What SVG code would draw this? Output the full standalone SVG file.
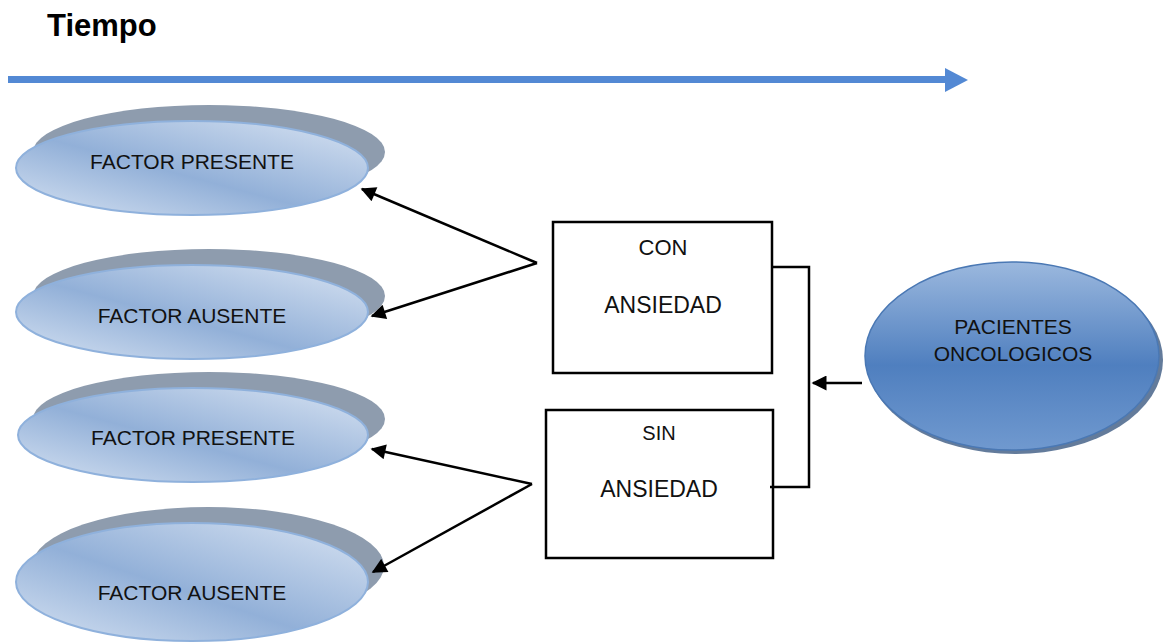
<svg xmlns="http://www.w3.org/2000/svg" width="1166" height="643" viewBox="0 0 1166 643">
  <defs>
    <linearGradient id="factorFill" x1="0" y1="1" x2="1" y2="0">
      <stop offset="0" stop-color="#d6e2f2"/>
      <stop offset="0.45" stop-color="#92b0d8"/>
      <stop offset="1" stop-color="#d8e3f2"/>
    </linearGradient>
    <linearGradient id="pacFill" x1="0" y1="0" x2="0" y2="1">
      <stop offset="0" stop-color="#9bb8de"/>
      <stop offset="0.55" stop-color="#4f7fbf"/>
      <stop offset="1" stop-color="#7099cf"/>
    </linearGradient>
    <marker id="arrow" viewBox="0 0 10 10" refX="9" refY="5" markerWidth="7" markerHeight="6" markerUnits="strokeWidth" orient="auto">
      <path d="M0,0 L10,5 L0,10 z" fill="#000"/>
    </marker>
  </defs>
  <style>
    .label { font-family: "Liberation Sans", Arial, sans-serif; fill: #111; text-anchor: middle; }
    .shadow { fill: #8e9cae; }
    .factor { fill: url(#factorFill); stroke: #8fb1dc; stroke-width: 2; }
    .box { fill: #fff; stroke: #000; stroke-width: 2.5; }
    .conn { fill: none; stroke: #000; stroke-width: 2.5; }
  </style>

  <!-- time axis -->
  <g id="tiempo">
    <text x="47" y="36" font-family="Liberation Sans, Arial, sans-serif" font-weight="bold" font-size="31" fill="#000">Tiempo</text>
    <rect x="8" y="76" width="938" height="7" fill="#5389d4"/>
    <polygon points="945,68 968,80 945,92" fill="#5389d4"/>
  </g>

  <!-- outcome ellipses -->
  <g id="factor-presente-1">
    <ellipse class="shadow" cx="209" cy="152" rx="176" ry="47"/>
    <ellipse class="factor" cx="192" cy="168" rx="176" ry="47"/>
    <text class="label" x="192" y="169" font-size="21">FACTOR PRESENTE</text>
  </g>
  <g id="factor-ausente-1">
    <ellipse class="shadow" cx="209" cy="296" rx="176" ry="47"/>
    <ellipse class="factor" cx="192" cy="312" rx="176" ry="47"/>
    <text class="label" x="192" y="323" font-size="21">FACTOR AUSENTE</text>
  </g>
  <g id="factor-presente-2">
    <ellipse class="shadow" cx="209" cy="419" rx="176" ry="47"/>
    <ellipse class="factor" cx="193" cy="435" rx="175" ry="47"/>
    <text class="label" x="193" y="445" font-size="21">FACTOR PRESENTE</text>
  </g>
  <g id="factor-ausente-2">
    <ellipse class="shadow" cx="208" cy="566" rx="176" ry="59"/>
    <ellipse class="factor" cx="192" cy="582" rx="176" ry="59"/>
    <text class="label" x="192" y="600" font-size="21">FACTOR AUSENTE</text>
  </g>

  <!-- exposure groups -->
  <g id="con-ansiedad">
    <rect class="box" x="553" y="222" width="219" height="151"/>
    <text class="label" x="663" y="255" font-size="22">CON</text>
    <text class="label" x="663" y="313" font-size="23">ANSIEDAD</text>
  </g>
  <g id="sin-ansiedad">
    <rect class="box" x="546" y="410" width="227" height="148"/>
    <text class="label" x="659" y="440" font-size="20">SIN</text>
    <text class="label" x="659" y="497" font-size="23">ANSIEDAD</text>
  </g>

  <!-- cohort -->
  <g id="pacientes">
    <ellipse cx="1015" cy="360" rx="148" ry="94" fill="#2f4f7a" opacity="0.75"/>
    <ellipse cx="1012" cy="356" rx="147" ry="94" fill="url(#pacFill)" stroke="#4a78b4" stroke-width="1.5"/>
    <text class="label" x="1013" y="334" font-size="21">PACIENTES</text>
    <text class="label" x="1013" y="361" font-size="21">ONCOLOGICOS</text>
  </g>

  <!-- connectors -->
  <g id="connectors">
    <polyline class="conn" points="772,267 809,267 809,487 770,487"/>
    <line class="conn" x1="862" y1="383" x2="813" y2="383" marker-end="url(#arrow)"/>
    <line class="conn" x1="537" y1="263" x2="362" y2="189" marker-end="url(#arrow)"/>
    <line class="conn" x1="537" y1="263" x2="372" y2="316" marker-end="url(#arrow)"/>
    <line class="conn" x1="532" y1="484" x2="372" y2="449" marker-end="url(#arrow)"/>
    <line class="conn" x1="532" y1="484" x2="373" y2="572" marker-end="url(#arrow)"/>
  </g>
</svg>
